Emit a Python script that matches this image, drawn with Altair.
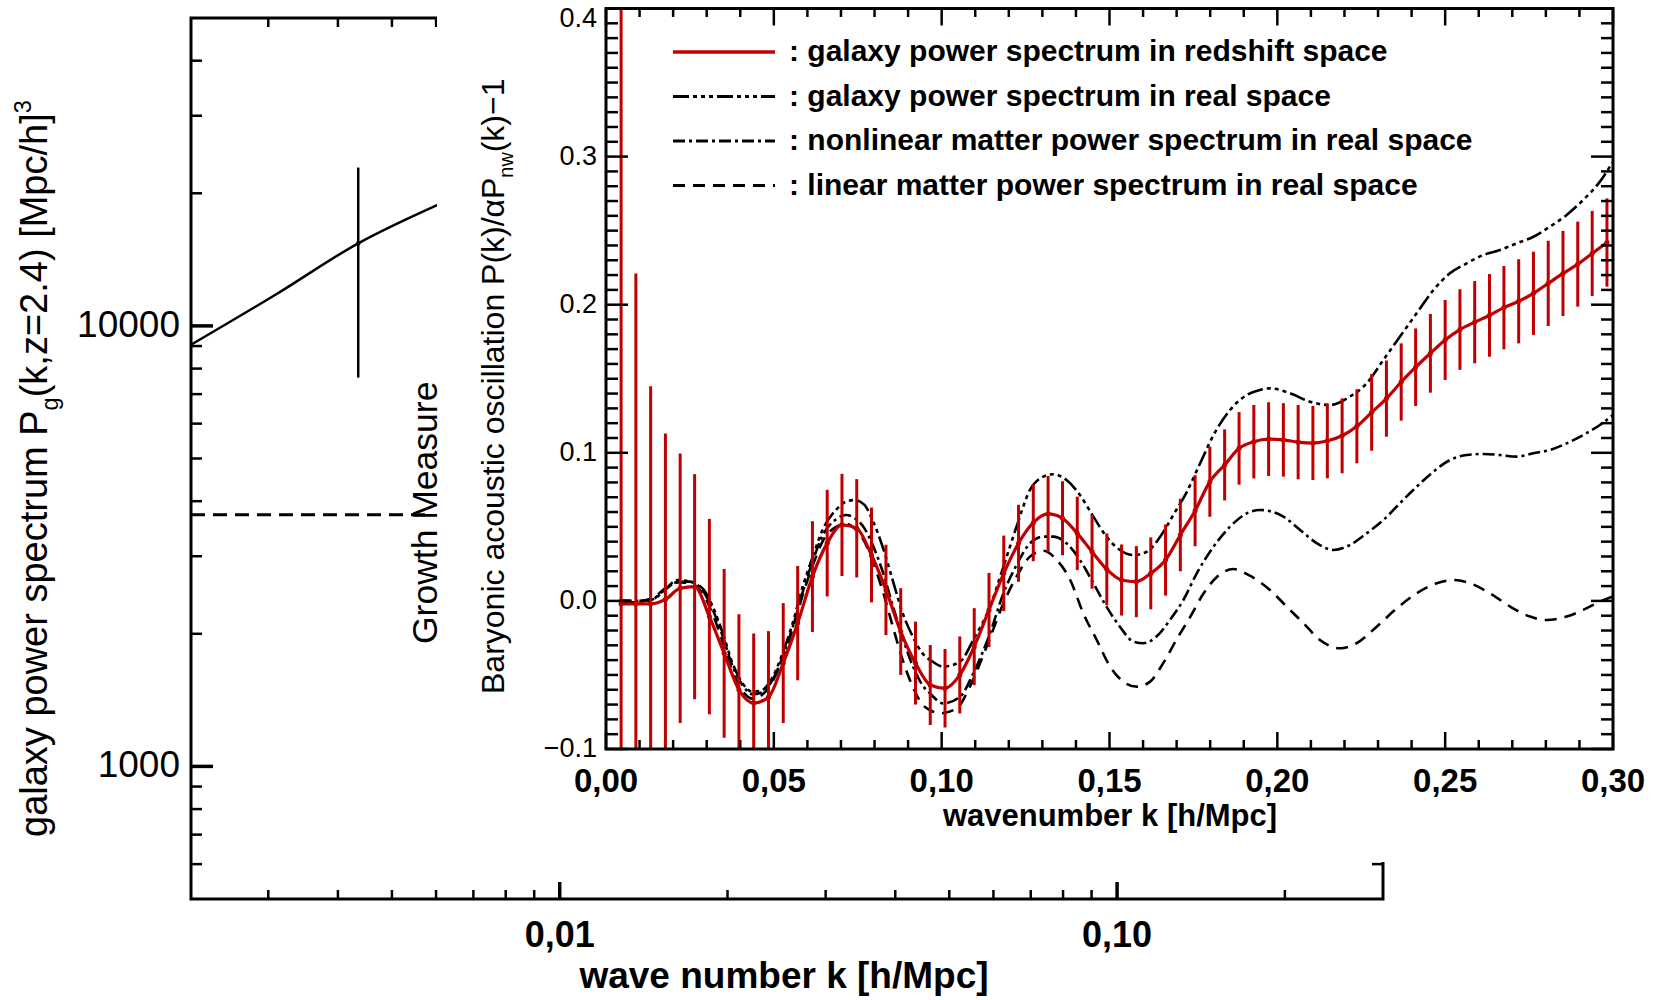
import altair as alt
import pandas as pd

# ---------------- outer panel: galaxy power spectrum (log-log) ----------------
outer_k = [0.00218, 0.0031, 0.00435, 0.00604]
outer_p = [9060, 11800, 15400, 18830]
growth_k = [0.00435]
growth_p = [15400]
growth_lo = [7630]
growth_hi = [22880]
level_k = [0.00218, 0.0058]
level_p = [3724, 3724]

outer_y_major = [1000, 10000]
outer_y_minor = [600, 700, 800, 900, 2000, 3000, 4000, 5000, 6000, 7000, 8000, 9000,
                 20000, 30000, 40000]
outer_y_labels = ["1000", "10000"]
outer_x_major = [0.01, 0.1]
outer_x_minor = [0.003, 0.004, 0.005, 0.006, 0.007, 0.008, 0.009,
                 0.02, 0.03, 0.04, 0.05, 0.06, 0.07, 0.08, 0.09, 0.2]
outer_x_labels = ["0,01", "0,10"]

# ---------------- inset: baryonic acoustic oscillations ----------------
bin_k = [0.0045, 0.0089, 0.0133, 0.0177, 0.0221, 0.0264, 0.0308, 0.0352, 0.0396, 0.0440,
         0.0484, 0.0528, 0.0571, 0.0615, 0.0659, 0.0703, 0.0747, 0.0791, 0.0834, 0.0878,
         0.0922, 0.0966, 0.1010, 0.1054, 0.1097, 0.1141, 0.1185, 0.1229, 0.1273, 0.1317,
         0.1360, 0.1404, 0.1448, 0.1492, 0.1536, 0.1580, 0.1623, 0.1667, 0.1711, 0.1755,
         0.1799, 0.1843, 0.1886, 0.1930, 0.1974, 0.2018, 0.2062, 0.2106, 0.2149, 0.2193,
         0.2237, 0.2281, 0.2325, 0.2369, 0.2412, 0.2456, 0.2500, 0.2544, 0.2588, 0.2632,
         0.2675, 0.2719, 0.2763, 0.2807, 0.2851, 0.2895, 0.2938, 0.2982]
red_v = [-0.002, -0.002, -0.002, 0.001, 0.0085, 0.0096, -0.0106, -0.0354, -0.060, -0.069,
         -0.065, -0.042, -0.015, 0.0164, 0.039, 0.0513, 0.049, 0.031, 0.0074, -0.0207,
         -0.042, -0.0568, -0.059, -0.050, -0.0309, -0.0061, 0.0186, 0.0389, 0.0528, 0.0587,
         0.0558, 0.0456, 0.0332, 0.0213, 0.0141, 0.0130, 0.0186, 0.0276, 0.0445, 0.0609,
         0.0805, 0.0918, 0.1030, 0.1075, 0.1092, 0.1087, 0.1072, 0.1066, 0.1081, 0.1115,
         0.1179, 0.1273, 0.1366, 0.1478, 0.1578, 0.1672, 0.1762, 0.1832, 0.1882, 0.1928,
         0.1980, 0.2023, 0.2077, 0.2144, 0.2211, 0.2274, 0.2346, 0.2420]
red_err = [0.60, 0.223, 0.147, 0.112, 0.091, 0.076, 0.066, 0.057, 0.051, 0.047,
           0.0446, 0.0405, 0.0386, 0.0374, 0.036, 0.0345, 0.0332, 0.032, 0.0305, 0.0293,
           0.028, 0.027, 0.0265, 0.026, 0.026, 0.025, 0.0255, 0.026, 0.026, 0.0257,
           0.025, 0.0248, 0.025, 0.0243, 0.024, 0.024, 0.0243, 0.024, 0.0245, 0.024,
           0.0237, 0.024, 0.0245, 0.0248, 0.0249, 0.0248, 0.0251, 0.025, 0.0253, 0.0253,
           0.025, 0.0259, 0.0257, 0.0261, 0.0262, 0.0266, 0.027, 0.0272, 0.0278, 0.0279,
           0.0281, 0.0284, 0.0281, 0.0288, 0.0287, 0.0287, 0.0287, 0.0298]

gr_k = [0.0040, 0.0099, 0.0139, 0.0179, 0.0213, 0.0248, 0.0288, 0.0318, 0.0348, 0.0377,
        0.0407, 0.0437, 0.0462, 0.0497, 0.0526, 0.0556, 0.0586, 0.0616, 0.0645, 0.0685,
        0.0715, 0.0740, 0.0770, 0.0794, 0.0824, 0.0854, 0.0884, 0.0914, 0.0943, 0.0973,
        0.1005, 0.1055, 0.1094, 0.1144, 0.1184, 0.1223, 0.1263, 0.1303, 0.1333, 0.1372,
        0.1412, 0.1452, 0.1491, 0.1531, 0.1571, 0.1611, 0.1650, 0.1690, 0.1730, 0.1770,
        0.1810, 0.1859, 0.1909, 0.1948, 0.1978, 0.2038, 0.2097, 0.2157, 0.2216, 0.2266,
        0.2316, 0.2365, 0.2415, 0.2465, 0.2514, 0.2564, 0.2614, 0.2663, 0.2713, 0.2763,
        0.2812, 0.2862, 0.2911, 0.2961, 0.3000]
gr_v = [-0.001, -0.001, 0.001, 0.0085, 0.0141, 0.0130, 0.0085, -0.0039, -0.0219, -0.0421,
        -0.0557, -0.0613, -0.0606, -0.0512, -0.0354, -0.0151, 0.0096, 0.0299, 0.0479, 0.0614,
        0.0670, 0.0681, 0.0648, 0.0546, 0.0366, 0.0141, -0.0084, -0.0241, -0.0354, -0.0410,
        -0.0444, -0.0410, -0.0264, -0.0039, 0.0231, 0.0501, 0.0749, 0.0839, 0.0855, 0.0816,
        0.0715, 0.0569, 0.0434, 0.0344, 0.0310, 0.0332, 0.0430, 0.0580, 0.0735, 0.0929,
        0.1120, 0.1289, 0.1390, 0.1424, 0.1435, 0.1402, 0.1345, 0.1323, 0.1379, 0.1469,
        0.1627, 0.1784, 0.1942, 0.2099, 0.2212, 0.2279, 0.2336, 0.2369, 0.2414, 0.2459,
        0.2527, 0.2606, 0.2707, 0.2831, 0.2966]

nl_k = [0.0040, 0.0099, 0.0139, 0.0179, 0.0213, 0.0248, 0.0288, 0.0318, 0.0348, 0.0377,
        0.0407, 0.0437, 0.0462, 0.0497, 0.0526, 0.0556, 0.0586, 0.0616, 0.0645, 0.0685,
        0.0715, 0.0740, 0.0770, 0.0794, 0.0824, 0.0854, 0.0884, 0.0914, 0.0943, 0.0965,
        0.1005, 0.1055, 0.1094, 0.1144, 0.1184, 0.1223, 0.1263, 0.1303, 0.1333, 0.1372,
        0.1412, 0.1452, 0.1491, 0.1531, 0.1571, 0.1601, 0.1640, 0.1680, 0.1720, 0.1760,
        0.1810, 0.1859, 0.1909, 0.1948, 0.2018, 0.2068, 0.2118, 0.2167, 0.2216, 0.2266,
        0.2316, 0.2365, 0.2415, 0.2465, 0.2514, 0.2564, 0.2614, 0.2663, 0.2713, 0.2763,
        0.2812, 0.2862, 0.2911, 0.2961, 0.3000]
nl_v = [0.000, 0.000, 0.001, 0.008, 0.013, 0.013, 0.007, -0.006, -0.024, -0.044,
        -0.057, -0.063, -0.062, -0.053, -0.038, -0.018, 0.006, 0.027, 0.044, 0.055,
        0.058, 0.056, 0.049, 0.038, 0.020, -0.003, -0.025, -0.044, -0.057, -0.0624,
        -0.0692, -0.0647, -0.0490, -0.0219, 0.0051, 0.0242, 0.0389, 0.0434, 0.0434, 0.0389,
        0.0276, 0.0119, -0.0039, -0.0174, -0.0275, -0.0286, -0.0241, -0.0129, 0.0006, 0.0186,
        0.0366, 0.0501, 0.0591, 0.0614, 0.0569, 0.0479, 0.0389, 0.0344, 0.0377, 0.0456,
        0.0546, 0.0659, 0.0771, 0.0873, 0.0951, 0.0985, 0.0992, 0.0985, 0.0974, 0.0997,
        0.1019, 0.1064, 0.1120, 0.1188, 0.1255]

lin_k = [0.0040, 0.0099, 0.0139, 0.0179, 0.0213, 0.0248, 0.0288, 0.0318, 0.0348, 0.0377,
         0.0407, 0.0437, 0.0462, 0.0497, 0.0526, 0.0556, 0.0586, 0.0616, 0.0645, 0.0685,
         0.0715, 0.0740, 0.0770, 0.0794, 0.0824, 0.0854, 0.0884, 0.0914, 0.0943, 0.0965,
         0.0995, 0.1045, 0.1084, 0.1134, 0.1184, 0.1223, 0.1263, 0.1303, 0.1343, 0.1383,
         0.1422, 0.1462, 0.1502, 0.1541, 0.1581, 0.1621, 0.1660, 0.1700, 0.1740, 0.1780,
         0.1819, 0.1869, 0.1918, 0.1978, 0.2028, 0.2078, 0.2127, 0.2187, 0.2236, 0.2296,
         0.2356, 0.2415, 0.2475, 0.2525, 0.2574, 0.2634, 0.2694, 0.2753, 0.2803, 0.2862,
         0.2911, 0.2961, 0.3000]
lin_v = [0.000, 0.000, 0.002, 0.009, 0.0125, 0.012, 0.005, -0.009, -0.028, -0.048,
         -0.061, -0.066, -0.064, -0.054, -0.039, -0.019, 0.004, 0.024, 0.040, 0.050,
         0.052, 0.049, 0.040, 0.027, 0.007, -0.017, -0.040, -0.058, -0.070, -0.0737,
         -0.0759, -0.0725, -0.0579, -0.0309, -0.0016, 0.0164, 0.0299, 0.0339, 0.0276, 0.0141,
         -0.0084, -0.0264, -0.0444, -0.0545, -0.0579, -0.0545, -0.0420, -0.0260, -0.0110, 0.0050,
         0.0160, 0.0215, 0.0170, 0.0074, -0.0039, -0.0151, -0.0264, -0.0320, -0.0286, -0.0174,
         -0.0050, 0.0051, 0.0119, 0.0141, 0.0119, 0.0051, -0.0039, -0.0106, -0.0129, -0.0106,
         -0.0061, -0.0005, 0.0030]

inset_x_major = [0.0, 0.05, 0.10, 0.15, 0.20, 0.25, 0.30]
inset_x_labels = ["0,00", "0,05", "0,10", "0,15", "0,20", "0,25", "0,30"]
inset_x_minor = [i / 100 for i in range(1, 30) if i % 5]
inset_y_major = [-0.1, 0.0, 0.1, 0.2, 0.3, 0.4]
inset_y_labels = ["\u22120.1", "0.0", "0.1", "0.2", "0.3", "0.4"]
inset_y_minor = [i / 100 for i in range(-9, 40) if i % 10]

legend_labels = [": galaxy power spectrum in redshift space",
                 ": galaxy power spectrum in real space",
                 ": nonlinear matter power spectrum in real space",
                 ": linear matter power spectrum in real space"]

# ---------------- styling / geometry ----------------
W, H = 1192, 881
BLACK, RED = "#000000", "#c00000"
HELV, IDL = "Liberation Sans", "Liberation Sans"
DASH_GR = [16, 4, 4, 4, 4, 4, 4, 4]
DASH_NL = [12, 4, 3, 4]
DASH_LIN = [12, 8]

SX_OUT = alt.Scale(type="log", domain=[0.00218, 0.30], range=[0, W], nice=False)
SY_OUT = alt.Scale(type="log", domain=[500, 50000], range=[H, 0], nice=False)
SX_IN = alt.Scale(type="linear", domain=[0.0, 0.30], range=[415, 1422], nice=False, zero=False)
SY_IN = alt.Scale(type="linear", domain=[-0.1, 0.4], range=[731, -9.5], nice=False, zero=False)

AW = {' ': 278, '(': 333, ')': 333, ',': 278, '.': 278, '/': 278, '=': 584, '[': 278, ']': 278,
      '\u2212': 584, '0': 556, '1': 556, '2': 556, '3': 556, '4': 556, 'B': 667, 'M': 833,
      'P': 667, 'G': 778, 'a': 556, 'b': 556, 'c': 500, 'e': 556, 'g': 556, 'h': 556, 'i': 222,
      'k': 500, 'l': 222, 'm': 833, 'n': 556, 'o': 556, 'p': 556, 'r': 333, 's': 500, 't': 278,
      'u': 556, 'w': 722, 'x': 500, 'y': 500, 'z': 500, '\u03b1': 576}


def tw(s, size):
    return sum(AW.get(c, 556) for c in s) * size / 1000.0


one = pd.DataFrame({"a": [0]})


def X(f, s):
    return alt.X(f, type="quantitative", scale=s, axis=None)


def Y(f, s):
    return alt.Y(f, type="quantitative", scale=s, axis=None)


def xticks(vals, sx, y0, y1, w=2.5):
    return alt.Chart(pd.DataFrame({"t": vals})).mark_rule(color=BLACK, strokeWidth=w).encode(
        x=X("t", sx), y=alt.value(y0), y2=alt.value(y1))


def yticks(vals, sy, x0, x1, w=2.5):
    return alt.Chart(pd.DataFrame({"t": vals})).mark_rule(color=BLACK, strokeWidth=w).encode(
        y=Y("t", sy), x=alt.value(x0), x2=alt.value(x1))


def text_at(s, x, y, **kw):
    return alt.Chart(one).mark_text(text=s, color=BLACK, **kw).encode(
        x=alt.value(x), y=alt.value(y))


def rotated_title(parts, x, y, size):
    """parts: list of (text, kind) with kind in 'n', 'sub', 'sup'"""
    layers = []
    off = 0.0
    for s, kind in parts:
        fs = size if kind == "n" else size * 0.62
        dy = 0 if kind == "n" else (0.28 * size if kind == "sub" else -0.42 * size)
        layers.append(text_at(s, x, y, angle=270, align="left", baseline="alphabetic",
                              font=HELV, fontSize=fs, dx=off, dy=dy))
        off += tw(s, fs)
    return layers


# ---------------- outer panel layers ----------------
outer_layers = [
    alt.Chart(one).mark_rect(filled=False, stroke=BLACK, strokeWidth=3).encode(
        x=alt.value(0), x2=alt.value(W), y=alt.value(0), y2=alt.value(H)),
    yticks(outer_y_major, SY_OUT, 0, 22, 3.5), yticks(outer_y_minor, SY_OUT, 0, 11),
    yticks(outer_y_major, SY_OUT, W - 22, W, 3.5), yticks(outer_y_minor, SY_OUT, W - 11, W),
    xticks(outer_x_major, SX_OUT, H - 17, H, 3.5), xticks(outer_x_minor, SX_OUT, H - 9, H),
    xticks(outer_x_major, SX_OUT, 0, 17, 3.5), xticks(outer_x_minor, SX_OUT, 0, 9),
    alt.Chart(pd.DataFrame({"k": outer_k, "p": outer_p})).mark_line(
        color=BLACK, strokeWidth=2.5, interpolate="monotone").encode(
        x=X("k", SX_OUT), y=Y("p", SY_OUT)),
    alt.Chart(pd.DataFrame({"k": level_k, "p": level_p})).mark_line(
        color=BLACK, strokeWidth=3, strokeDash=[14, 8]).encode(
        x=X("k", SX_OUT), y=Y("p", SY_OUT)),
    alt.Chart(pd.DataFrame({"k": growth_k, "lo": growth_lo, "hi": growth_hi})).mark_rule(
        color=BLACK, strokeWidth=2.5).encode(x=X("k", SX_OUT), y=Y("lo", SY_OUT), y2="hi"),
    alt.Chart(pd.DataFrame({"k": growth_k, "p": growth_p})).mark_circle(
        color=BLACK, size=22, opacity=1).encode(x=X("k", SX_OUT), y=Y("p", SY_OUT)),
    alt.Chart(pd.DataFrame({"p": outer_y_major, "lab": outer_y_labels})).mark_text(
        align="right", baseline="middle", font=HELV, fontSize=37, color=BLACK).encode(
        x=alt.value(-11), y=Y("p", SY_OUT), text="lab:N"),
    alt.Chart(pd.DataFrame({"k": outer_x_major, "lab": outer_x_labels})).mark_text(
        align="center", baseline="middle", font=IDL, fontWeight="bold", fontSize=36,
        color=BLACK).encode(x=X("k", SX_OUT), y=alt.value(918), text="lab:N"),
    # white area that the inset sits on
    alt.Chart(one).mark_rect(color="white").encode(
        x=alt.value(246), x2=alt.value(1471), y=alt.value(-18), y2=alt.value(844)),
]
outer = alt.layer(*outer_layers)

# ---------------- inset layers ----------------
red_df = pd.DataFrame({"k": bin_k, "v": red_v, "e": red_err})
red_df["lo"] = (red_df["v"] - red_df["e"]).clip(lower=-0.1, upper=0.4)
red_df["hi"] = (red_df["v"] + red_df["e"]).clip(lower=-0.1, upper=0.4)

ylab_df = pd.DataFrame({"v": inset_y_major, "lab": inset_y_labels})

inset_layers = [
    alt.Chart(pd.DataFrame({"k": lin_k, "v": lin_v})).mark_line(
        color=BLACK, strokeWidth=2.6, strokeDash=DASH_LIN, interpolate="monotone").encode(
        x=X("k", SX_IN), y=Y("v", SY_IN)),
    alt.Chart(pd.DataFrame({"k": nl_k, "v": nl_v})).mark_line(
        color=BLACK, strokeWidth=2.6, strokeDash=DASH_NL, interpolate="monotone").encode(
        x=X("k", SX_IN), y=Y("v", SY_IN)),
    alt.Chart(pd.DataFrame({"k": gr_k, "v": gr_v})).mark_line(
        color=BLACK, strokeWidth=2.6, strokeDash=DASH_GR, interpolate="monotone").encode(
        x=X("k", SX_IN), y=Y("v", SY_IN)),
    alt.Chart(red_df).mark_rule(color=RED, strokeWidth=3).encode(
        x=X("k", SX_IN), y=Y("lo", SY_IN), y2="hi"),
    alt.Chart(red_df).mark_line(color=RED, strokeWidth=3.2, interpolate="monotone").encode(
        x=X("k", SX_IN), y=Y("v", SY_IN)),
    alt.Chart(red_df).mark_circle(color=RED, size=26, opacity=1).encode(
        x=X("k", SX_IN), y=Y("v", SY_IN)),
    alt.Chart(one).mark_rect(filled=False, stroke=BLACK, strokeWidth=3).encode(
        x=alt.value(415), x2=alt.value(1422), y=alt.value(-9.5), y2=alt.value(731)),
    yticks(inset_y_major, SY_IN, 415, 437, 2.5), yticks(inset_y_minor, SY_IN, 415, 427, 2.5),
    yticks(inset_y_major, SY_IN, 1400, 1422, 2.5), yticks(inset_y_minor, SY_IN, 1410, 1422, 2.5),
    xticks(inset_x_major, SX_IN, 714, 731, 2.5), xticks(inset_x_minor, SX_IN, 722, 731, 2.5),
    xticks(inset_x_major, SX_IN, -9.5, 7.5, 2.5), xticks(inset_x_minor, SX_IN, -9.5, -1, 2.5),
    # y labels; the top one sits just below its tick so it stays inside the page
    alt.Chart(ylab_df[ylab_df["v"] < 0.35]).mark_text(
        align="right", baseline="middle", font=HELV, fontSize=27, color=BLACK).encode(
        x=alt.value(406), y=Y("v", SY_IN), text="lab:N"),
    alt.Chart(ylab_df[ylab_df["v"] > 0.35]).mark_text(
        align="right", baseline="middle", font=HELV, fontSize=27, color=BLACK, dy=10).encode(
        x=alt.value(406), y=Y("v", SY_IN), text="lab:N"),
    alt.Chart(pd.DataFrame({"k": inset_x_major, "lab": inset_x_labels})).mark_text(
        align="center", baseline="middle", font=IDL, fontWeight="bold", fontSize=33,
        color=BLACK).encode(x=X("k", SX_IN), y=alt.value(764), text="lab:N"),
]

# legend
leg_y = [34, 78.5, 123, 167.5]
leg_styles = [dict(color=RED, strokeWidth=3.5),
              dict(color=BLACK, strokeWidth=3, strokeDash=DASH_GR),
              dict(color=BLACK, strokeWidth=3, strokeDash=DASH_NL),
              dict(color=BLACK, strokeWidth=3, strokeDash=DASH_LIN)]
for yy, st, lab in zip(leg_y, leg_styles, legend_labels):
    inset_layers.append(alt.Chart(one).mark_rule(**st).encode(
        x=alt.value(482), x2=alt.value(584), y=alt.value(yy)))
    inset_layers.append(text_at(lab, 598, yy, align="left", baseline="middle", font=IDL,
                                fontWeight="bold", fontSize=30))

inset = alt.layer(*inset_layers)

# ---------------- titles ----------------
titles = []
titles += rotated_title([("galaxy power spectrum P", "n"), ("g", "sub"),
                         ("(k,z=2.4) [Mpc/h]", "n"), ("3", "sup")], -144, 819, 38)
titles += rotated_title([("Baryonic acoustic oscillation P(k)/\u03b1P", "n"), ("nw", "sub"),
                         ("(k)\u22121", "n")], 313, 676, 32)
titles.append(text_at("Growth Measure", 246, 626, angle=270, align="left",
                      baseline="alphabetic", font=HELV, fontSize=35.5))
titles.append(text_at("wavenumber k [h/Mpc]", 919, 799, align="center", baseline="middle",
                      font=IDL, fontWeight="bold", fontSize=31))
titles.append(text_at("wave number k [h/Mpc]", 593, 959, align="center", baseline="middle",
                      font=IDL, fontWeight="bold", fontSize=37))

chart = alt.layer(outer, inset, *titles).resolve_scale(
    x="independent", y="independent"
).properties(
    width=W, height=H,
    padding={"left": 191, "top": 18, "right": 279, "bottom": 101},
    autosize=alt.AutoSizeParams(type="none"),
    background="white",
).configure_view(strokeWidth=0)

chart.save("out.html", embed_options={"renderer": "svg", "actions": False})
